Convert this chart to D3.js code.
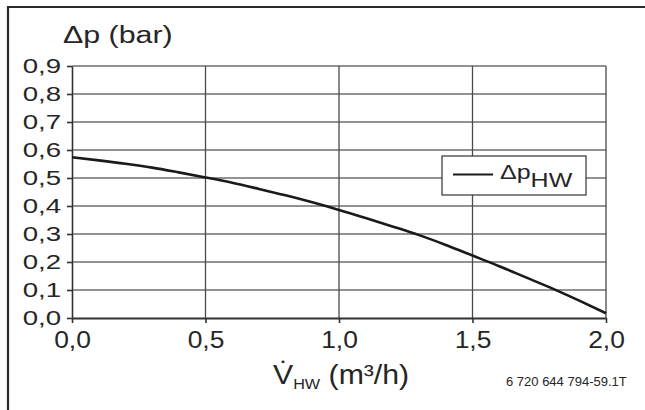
<!DOCTYPE html>
<html>
<head>
<meta charset="utf-8">
<script src="https://cdn.jsdelivr.net/npm/d3@7"></script>
<style>
  html, body { margin: 0; padding: 0; background: #fff; }
  svg { display: block; font-family: "Liberation Sans", Arial, Helvetica, sans-serif; }
</style>
</head>
<body>
<svg id="chart" width="645" height="410"></svg>
<script>
// Hot-water flow rate (m³/h) and the pressure drop (bar) across the circuit
const flowRates = [0.0, 0.1, 0.2, 0.3, 0.4, 0.5, 0.6, 0.7, 0.8, 0.9, 1.0,
                   1.1, 1.2, 1.3, 1.4, 1.5, 1.6, 1.7, 1.8, 1.9, 2.0];
const pressureDrop = [0.574, 0.563, 0.551, 0.537, 0.520, 0.502, 0.483, 0.461, 0.438, 0.413, 0.386,
                      0.357, 0.327, 0.296, 0.261, 0.223, 0.185, 0.145, 0.105, 0.062, 0.017];
const xTicks = [0.0, 0.5, 1.0, 1.5, 2.0];
const yTicks = [0.0, 0.1, 0.2, 0.3, 0.4, 0.5, 0.6, 0.7, 0.8, 0.9];
const yTitle = "Δp (bar)";
const drawingCode = "6 720 644 794-59.1T";

const svg = d3.select("#chart");
const plot = { left: 72, right: 606, top: 66, bottom: 318 };

const x = d3.scaleLinear().domain([0, 2]).range([plot.left, plot.right]);
const y = d3.scaleLinear().domain([0, 0.9]).range([plot.bottom, plot.top]);
const fmt = d => d3.format(".1f")(d).replace(".", ",");
const ink = "#262626";

// outer frame (top and left edges)
svg.append("path")
  .attr("d", `M8,410 V7 H645`)
  .attr("fill", "none").attr("stroke", "#2a2a2a").attr("stroke-width", 2.2);

// grid
const grid = svg.append("g");
grid.selectAll(".hg").data(yTicks.filter(d => d > 0)).join("line")
  .attr("x1", plot.left).attr("x2", plot.right)
  .attr("y1", d => y(d)).attr("y2", d => y(d))
  .attr("stroke", "#6e6e6e").attr("stroke-width", 1.3);
grid.selectAll(".vg").data(xTicks.filter(d => d > 0)).join("line")
  .attr("x1", d => x(d)).attr("x2", d => x(d))
  .attr("y1", plot.top).attr("y2", plot.bottom)
  .attr("stroke", "#4a4a4a").attr("stroke-width", 1.3);

// y axis
const yScaleX = 1.38;
const yAxis = svg.append("g")
  .attr("transform", `translate(${plot.left},0)`)
  .call(d3.axisLeft(y).tickValues(yTicks).tickFormat(fmt).tickSize(5).tickSizeOuter(0));
yAxis.select(".domain").attr("stroke", "#333").attr("stroke-width", 1.6);
yAxis.selectAll(".tick line").attr("stroke", "#333").attr("stroke-width", 1.6);
yAxis.selectAll(".tick text")
  .attr("font-size", 20).attr("fill", ink)
  .attr("x", -11 / yScaleX).attr("dy", "0.34em")
  .attr("transform", `scale(${yScaleX},1)`);

// x axis
const xScaleX = 1.1;
const xAxis = svg.append("g")
  .attr("transform", `translate(0,${plot.bottom})`)
  .call(d3.axisBottom(x).tickValues(xTicks).tickFormat(fmt).tickSize(5).tickSizeOuter(0));
xAxis.select(".domain").attr("stroke", "#333").attr("stroke-width", 2);
xAxis.selectAll(".tick line").attr("stroke", "#333").attr("stroke-width", 1.6);
xAxis.selectAll(".tick text")
  .attr("font-size", 24).attr("fill", ink)
  .attr("x", 0).attr("y", 30).attr("dy", 0)
  .attr("transform", `scale(${xScaleX},1)`);

// pressure-drop curve
const line = d3.line()
  .x((d, i) => x(flowRates[i]))
  .y(d => y(d))
  .curve(d3.curveMonotoneX);
svg.append("path")
  .datum(pressureDrop)
  .attr("d", line)
  .attr("fill", "none").attr("stroke", "#1a1a1a").attr("stroke-width", 2.6);

// y title
svg.append("text")
  .attr("transform", "translate(63,43) scale(1.24,1)")
  .attr("font-size", 24.5).attr("fill", ink)
  .text(yTitle);

// x title: V̇ with subscript HW and unit
const xt = svg.append("text")
  .attr("transform", "translate(273,384) scale(1.08,1)")
  .attr("font-size", 28).attr("fill", ink);
xt.append("tspan").text("V̇");
xt.append("tspan").attr("font-size", 15).attr("dy", 5).text("HW");
xt.append("tspan").attr("dy", -5).text(" (m³/h)");

// drawing reference code
svg.append("text")
  .attr("x", 506).attr("y", 386)
  .attr("font-size", 13).attr("fill", ink)
  .text(drawingCode);

// legend
const lg = svg.append("g");
lg.append("rect")
  .attr("x", 442).attr("y", 156).attr("width", 144).attr("height", 39)
  .attr("fill", "#fff").attr("stroke", "#333").attr("stroke-width", 1.2);
lg.append("line")
  .attr("x1", 453).attr("x2", 493).attr("y1", 174.5).attr("y2", 174.5)
  .attr("stroke", "#1a1a1a").attr("stroke-width", 2.2);
const lt = lg.append("text")
  .attr("transform", "translate(500,179) scale(1.25,1)")
  .attr("font-size", 20).attr("fill", ink);
lt.append("tspan").text("Δp");
lt.append("tspan").attr("dy", 8).text("HW");
</script>
</body>
</html>
